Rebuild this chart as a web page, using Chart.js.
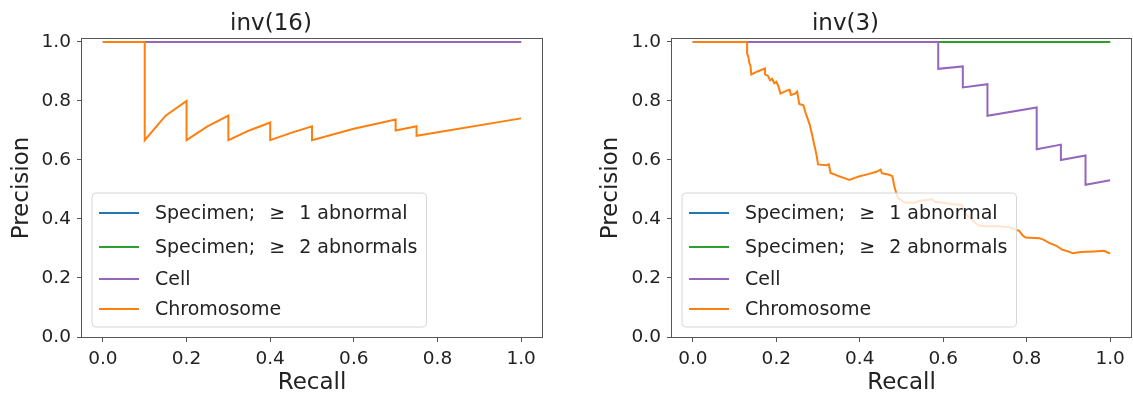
<!DOCTYPE html>
<html>
<head>
<meta charset="utf-8">
<script src="https://cdn.jsdelivr.net/npm/chart.js@4.4.1/dist/chart.umd.min.js"></script>
<style>
  body { margin: 0; background: #fff; width: 1133px; height: 398px; overflow: hidden; position: relative; }
  .panel { position: absolute; top: 0; height: 398px; }
</style>
</head>
<body>
<div class="panel" style="left:0;width:560px"><canvas id="inv16"></canvas></div>
<div class="panel" style="left:560px;width:573px"><canvas id="inv3"></canvas></div>
<script>
// legend labels, same for both panels
const seriesLabels = ['Specimen; \u2265 1 abnormal', 'Specimen; \u2265 2 abnormals', 'Cell', 'Chromosome'];
const seriesColors = ['#1f77b4', '#2ca02c', '#9467bd', '#ff7f0e'];
const axisTicks = [0, 0.2, 0.4, 0.6, 0.8, 1.0];

// flat curves (precision 1 over all recall)
const flatRecall = [0, 1];
const flatPrecision = [1, 1];

// inv(16) chromosome curve
const inv16ChromRecall = [0, 0.1, 0.1, 0.15, 0.2, 0.2, 0.25, 0.3, 0.3, 0.35, 0.4, 0.4, 0.45, 0.5, 0.5, 0.6, 0.7, 0.7, 0.75, 0.75, 1.0];
const inv16ChromPrecision = [1, 1, 0.667, 0.75, 0.8, 0.667, 0.714, 0.75, 0.667, 0.7, 0.727, 0.667, 0.692, 0.714, 0.667, 0.706, 0.737, 0.70, 0.714, 0.682, 0.741];

// inv(3) cell curve
const inv3CellRecall = [0, 0.588, 0.588, 0.647, 0.647, 0.706, 0.706, 0.824, 0.824, 0.882, 0.882, 0.941, 0.941, 1.0];
const inv3CellPrecision = [1, 1, 0.909, 0.917, 0.846, 0.857, 0.75, 0.778, 0.636, 0.652, 0.6, 0.615, 0.516, 0.531];

// inv(3) chromosome curve
const inv3ChromRecall = [0, 0.13, 0.13, 0.133, 0.135, 0.138, 0.14, 0.155, 0.173, 0.173, 0.18, 0.185, 0.19, 0.195, 0.2, 0.205, 0.21, 0.225, 0.232, 0.235, 0.245, 0.25, 0.255, 0.265, 0.27, 0.275, 0.28, 0.285, 0.288, 0.292, 0.296, 0.3, 0.32, 0.326, 0.33, 0.345, 0.35, 0.36, 0.375, 0.39, 0.4, 0.42, 0.44, 0.45, 0.453, 0.47, 0.478, 0.483, 0.487, 0.492, 0.51, 0.53, 0.545, 0.575, 0.58, 0.6, 0.625, 0.645, 0.652, 0.66, 0.67, 0.685, 0.7, 0.73, 0.76, 0.765, 0.782, 0.79, 0.797, 0.83, 0.84, 0.855, 0.87, 0.885, 0.9, 0.91, 0.93, 0.96, 0.985, 1.0];
const inv3ChromPrecision = [1, 1, 0.96, 0.95, 0.93, 0.92, 0.89, 0.9, 0.91, 0.89, 0.885, 0.87, 0.875, 0.86, 0.865, 0.85, 0.825, 0.835, 0.838, 0.82, 0.825, 0.832, 0.79, 0.785, 0.76, 0.74, 0.72, 0.69, 0.67, 0.645, 0.62, 0.585, 0.582, 0.585, 0.556, 0.548, 0.545, 0.54, 0.532, 0.54, 0.545, 0.552, 0.56, 0.567, 0.555, 0.55, 0.545, 0.51, 0.49, 0.47, 0.455, 0.455, 0.462, 0.467, 0.458, 0.455, 0.45, 0.448, 0.42, 0.41, 0.395, 0.378, 0.375, 0.375, 0.372, 0.368, 0.36, 0.345, 0.337, 0.335, 0.33, 0.318, 0.31, 0.296, 0.29, 0.284, 0.288, 0.29, 0.292, 0.283];

const FONT = 'DejaVu Sans';
const TEXT = '#222';
const SPINE = '#555';
const GEQ_GAP = 8; // extra room around the math-style ≥ sign

function pts(xs, ys) {
  return xs.map((x, i) => ({ x: x, y: ys[i] }));
}

function makeSets(curves) {
  return curves.map((c, i) => ({
    label: seriesLabels[i],
    data: pts(c[0], c[1]),
    borderColor: seriesColors[i],
    backgroundColor: seriesColors[i],
    borderWidth: 2,
    showLine: true,
    pointRadius: 0,
    tension: 0,
    order: 4 - i   // chromosome on top, like matplotlib plot order
  }));
}

function labelWidth(ctx, text) {
  const w = ctx.measureText(text).width;
  return text.includes('\u2265') ? w + 2 * GEQ_GAP : w;
}

function drawLabel(ctx, text, x, y) {
  const parts = text.split('\u2265');
  if (parts.length < 2) { ctx.fillText(text, x, y); return; }
  ctx.fillText(parts[0], x, y);
  let cx = x + ctx.measureText(parts[0]).width + GEQ_GAP;
  ctx.fillText('\u2265', cx, y);
  cx += ctx.measureText('\u2265').width + GEQ_GAP;
  ctx.fillText(parts[1], cx, y);
}

// frame on all four sides + legend box inside the axes
const framePlugin = {
  id: 'frameLegend',
  afterDatasetsDraw(chart) {
    const ctx = chart.ctx;
    const a = chart.chartArea;
    ctx.save();
    ctx.strokeStyle = SPINE;
    ctx.lineWidth = 1;
    ctx.strokeRect(Math.round(a.left) - 0.5, Math.round(a.top) - 0.5, Math.round(a.width) + 1, Math.round(a.height) + 1);

    // legend
    ctx.font = '19px "' + FONT + '"';
    let maxW = 0;
    chart.data.datasets.forEach(d => { maxW = Math.max(maxW, labelWidth(ctx, d.label)); });
    const bx = a.left + 10, by = a.top + 154;
    const bw = 63 + maxW + 9, bh = 134;
    const r = 4;
    ctx.beginPath();
    ctx.moveTo(bx + r, by);
    ctx.arcTo(bx + bw, by, bx + bw, by + bh, r);
    ctx.arcTo(bx + bw, by + bh, bx, by + bh, r);
    ctx.arcTo(bx, by + bh, bx, by, r);
    ctx.arcTo(bx, by, bx + bw, by, r);
    ctx.closePath();
    ctx.fillStyle = 'rgba(255,255,255,0.8)';
    ctx.fill();
    ctx.strokeStyle = '#d6d6d6';
    ctx.stroke();

    const rows = [20, 54, 86, 116];
    chart.data.datasets.forEach((d, i) => {
      const y = by + rows[i];
      ctx.beginPath();
      ctx.strokeStyle = d.borderColor;
      ctx.lineWidth = 2;
      ctx.moveTo(bx + 7, y);
      ctx.lineTo(bx + 47, y);
      ctx.stroke();
      ctx.fillStyle = TEXT;
      ctx.textBaseline = 'middle';
      ctx.textAlign = 'left';
      drawLabel(ctx, d.label, bx + 63, y + 1);
    });
    ctx.restore();
  }
};

function makeChart(id, title, curves, yWidth, yTitlePad, padRight) {
  return new Chart(document.getElementById(id), {
    type: 'scatter',
    data: { datasets: makeSets(curves) },
    options: {
      responsive: true,
      maintainAspectRatio: false,
      animation: false,
      layout: { padding: { left: 0, right: padRight, top: 0, bottom: 0 } },
      scales: {
        x: {
          type: 'linear',
          min: -0.05,
          max: 1.05,
          afterBuildTicks: s => { s.ticks = axisTicks.map(v => ({ value: v })); },
          afterFit: s => { s.height = 61; },
          grid: { drawOnChartArea: false, drawTicks: true, tickLength: 5, tickColor: SPINE },
          border: { display: false },
          ticks: {
            padding: 6,
            color: TEXT,
            font: { family: FONT, size: 18.5 },
            maxRotation: 0,
            callback: v => v.toFixed(1)
          },
          title: {
            display: true,
            text: 'Recall',
            color: TEXT,
            font: { family: FONT, size: 23 },
            padding: { top: 0, bottom: 1 }
          }
        },
        y: {
          type: 'linear',
          min: 0,
          max: 1.01,
          afterBuildTicks: s => { s.ticks = axisTicks.map(v => ({ value: v })); },
          afterFit: s => { s.width = yWidth; },
          grid: { drawOnChartArea: false, drawTicks: true, tickLength: 5, tickColor: SPINE },
          border: { display: false },
          ticks: {
            padding: 6,
            color: TEXT,
            font: { family: FONT, size: 18.5 },
            callback: v => v.toFixed(1)
          },
          title: {
            display: true,
            text: 'Precision',
            color: TEXT,
            font: { family: FONT, size: 23 },
            padding: { top: yTitlePad, bottom: 0 }
          }
        }
      },
      plugins: {
        legend: { display: false },
        tooltip: { enabled: false },
        title: {
          display: true,
          text: title,
          color: TEXT,
          font: { family: FONT, size: 23, weight: 'normal' },
          padding: { top: 10.4, bottom: 1 }
        }
      }
    },
    plugins: [framePlugin]
  });
}

makeChart('inv16', 'inv(16)', [
  [flatRecall, flatPrecision],
  [flatRecall, flatPrecision],
  [flatRecall, flatPrecision],
  [inv16ChromRecall, inv16ChromPrecision]
], 82, 8, 18);

makeChart('inv3', 'inv(3)', [
  [flatRecall, flatPrecision],
  [flatRecall, flatPrecision],
  [inv3CellRecall, inv3CellPrecision],
  [inv3ChromRecall, inv3ChromPrecision]
], 112, 37, 2);
</script>
</body>
</html>
